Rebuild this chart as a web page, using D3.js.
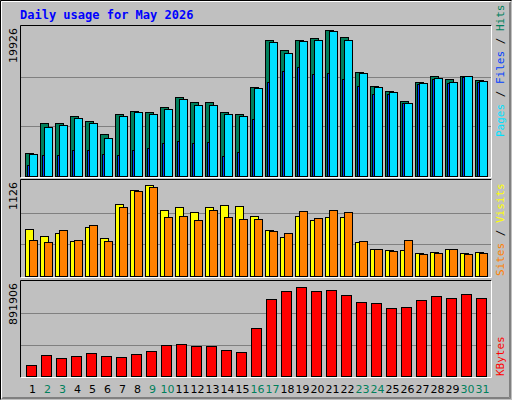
<!DOCTYPE html>
<html><head><meta charset="utf-8">
<script src="https://cdn.jsdelivr.net/npm/d3@7"></script>
<style>body{margin:0;background:#fff}</style>
</head><body>
<script>
const days = d3.range(1, 32);
const weekend = [2, 3, 9, 10, 16, 17, 23, 24, 30, 31];
const hits = [3055,7041,7041,7970,7306,5579,8236,8635,8502,9166,10627,9830,9830,8502,8236,11956,18199,16871,18199,18465,19528,18598,13948,12088,11424,10096,12620,13417,13018,13417,12885];
const files = [2920,6510,6770,7700,7040,5050,7970,8500,8240,8900,10360,9560,9560,8240,7970,11820,17930,16470,18060,18200,19390,18200,13810,11960,11290,9700,12490,13150,12620,13420,12750];
const pages = [1460,2790,2790,3450,3450,2920,2790,3450,3720,4380,4650,4380,4520,2660,3190,7570,12620,14080,14610,13680,13810,13020,12090,11030,11030,9700,12350,13020,12490,13280,12620];
const visits = [555,473,508,414,579,450,848,1024,1083,779,813,755,813,837,825,708,544,461,708,661,696,696,403,321,309,309,274,285,321,274,285];
const sites = [426,403,543,426,602,414,813,1013,1060,696,708,661,778,696,673,673,532,508,766,684,778,755,414,321,297,426,262,274,321,262,274];
const kbytes = [105300,198200,170300,188900,216800,188900,179600,207500,235400,291100,300400,281800,281800,244700,226100,458400,727800,802100,848600,802100,811400,764900,699900,690600,644100,653400,718500,755700,737000,774200,737000];
const maxHits = 19926, maxVisits = 1126, maxKB = 891906;

const W = 512, H = 400;
const svg = d3.select('body').append('svg').attr('width', W).attr('height', H);
svg.append('rect').attr('width', W).attr('height', H).attr('fill', '#c0c0c0');
svg.append('path').attr('d', 'M0.5,399.5V0.5H511.5').attr('stroke', '#000').attr('fill', 'none');
svg.append('path').attr('d', 'M1.5,398.5H510.5V1.5').attr('stroke', '#808080').attr('fill', 'none');
svg.append('path').attr('d', 'M1.5,398.5V1.5H510.5').attr('stroke', '#fff').attr('fill', 'none');
svg.append('path').attr('d', 'M2.5,397.5H509.5V2.5').attr('stroke', '#808080').attr('fill', 'none');

svg.append('text').attr('x', 20).attr('y', 19).text('Daily usage for May 2026')
    .attr('font-family', 'DejaVu Sans Mono').attr('font-weight', 'bold')
    .attr('font-size', 12).attr('fill', '#0000ff');

const x = d3.scaleBand().domain(days).range([23, 488]);

function panel(top, bottom, max, label) {
  const y = d3.scaleLinear().domain([0, max]).range([bottom, top + 1]);
  svg.append('path').attr('d', `M20.5,${bottom + 1.5}V${top - 0.5}H491.5`).attr('stroke', '#000').attr('fill', 'none');
  svg.append('path').attr('d', `M20.5,${bottom + 1.5}H491.5V${top - 0.5}`).attr('stroke', '#fff').attr('fill', 'none');
  [1 / 3, 2 / 3].forEach(f => {
    svg.append('line').attr('x1', 21).attr('x2', 491)
        .attr('y1', Math.round(y(max * f)) + 0.5).attr('y2', Math.round(y(max * f)) + 0.5)
        .attr('stroke', '#808080');
  });
  svg.append('text').attr('transform', `translate(17,${top + 2}) rotate(-90)`)
      .attr('text-anchor', 'end').text(label)
      .attr('font-family', 'DejaVu Sans').attr('font-size', 11).attr('fill', '#000');
  return y;
}

function bars(y, data, dx, w, color) {
  svg.append('g').selectAll('rect').data(data).join('rect')
      .attr('x', (d, i) => Math.round(x(days[i])) + dx + 0.5)
      .attr('y', d => Math.round(y(d)) + 0.5)
      .attr('width', w)
      .attr('height', d => y(0) - Math.round(y(d)))
      .attr('fill', color).attr('stroke', '#000');
}

function legend(cx, yBottom, parts) {
  const t = svg.append('text').attr('transform', `translate(${cx},${yBottom}) rotate(-90)`)
      .attr('font-family', 'DejaVu Sans Mono').attr('font-size', 11);
  parts.forEach(([s, c]) => t.append('tspan').text(s).attr('fill', c));
}

const y1 = panel(26, 176, maxHits, String(maxHits));
bars(y1, hits, 2, 8, '#00805c');
bars(y1, files, 6, 8, '#00e0ff');
bars(y1, pages, 4, 2, '#0040ff');
legend(504, 137, [['Pages', '#00e0ff'], [' / ', '#000'], ['Files', '#0040ff'], [' / ', '#000'], ['Hits', '#00805c']]);

const y2 = panel(180, 276, maxVisits, String(maxVisits));
bars(y2, visits, 2, 8, '#ffff00');
bars(y2, sites, 6, 8, '#ff8000');
legend(504, 276, [['Sites', '#ff8000'], [' / ', '#000'], ['Visits', '#ffff00']]);

const y3 = panel(281, 376, maxKB, String(maxKB));
bars(y3, kbytes, 3, 10, '#ff0000');
legend(504, 376, [['KBytes', '#ff0000']]);

svg.append('g').selectAll('text').data(days).join('text')
    .attr('x', d => x(d) + x.bandwidth() / 2 + 2).attr('y', 393)
    .attr('text-anchor', 'middle').text(d => d)
    .attr('font-family', 'DejaVu Sans').attr('font-size', 11)
    .attr('fill', d => weekend.includes(d) ? '#00805c' : '#000');
</script>
</body></html>
